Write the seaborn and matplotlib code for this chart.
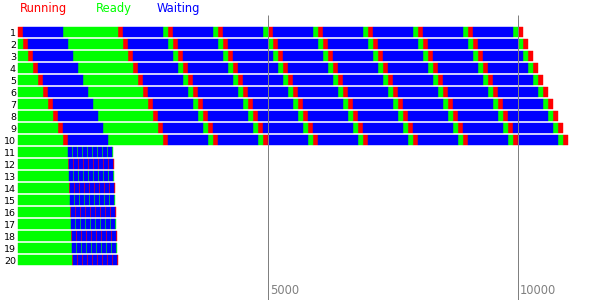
import matplotlib
matplotlib.use("Agg")
import matplotlib.pyplot as plt
import seaborn as sns
import pandas as pd

# ---- data ----
states = ["Running", "Ready", "Waiting"]
state_colors = ["#ff0000", "#00ff00", "#0000ff"]
processes = [str(i) for i in range(1, 21)]

# processes 1-10: time spent Ready before the first run, then a shared pattern
cpu_initial_ready = [0, 100, 200, 300, 400, 500, 600, 700, 800, 900]
cpu_pattern_states = (["Running", "Waiting", "Ready", "Running", "Waiting"]
                      + ["Ready", "Running", "Waiting"] * 7
                      + ["Ready", "Running"])
cpu_pattern_durations = ([100, 800, 1100, 100, 800]
                         + [100, 100, 800] * 7
                         + [100, 100])

# processes 11-20: long initial Ready, then short bursts
io_initial_ready = [1000, 1000, 1020, 1020, 1040, 1040, 1060, 1060, 1080, 1080]
io_odd_states = ["Waiting", "Ready"] * 9
io_odd_durations = [80, 20] * 9
io_even_states = ["Running", "Waiting"] * 9 + ["Running"]
io_even_durations = [20, 80] * 9 + [20]

tick_values = [5000, 10000]
tick_labels = ["5000", "10000"]

# ---- build segment table ----
rows = []
for i, proc in enumerate(processes):
    if i < 10:
        seq = [("Ready", cpu_initial_ready[i])] + list(zip(cpu_pattern_states, cpu_pattern_durations))
    else:
        j = i - 10
        if j % 2 == 0:
            tail = list(zip(io_odd_states, io_odd_durations))
        else:
            tail = list(zip(io_even_states, io_even_durations))
        seq = [("Ready", io_initial_ready[j])] + tail
    t = 0
    for st, d in seq:
        if d > 0:
            rows.append({"process": proc, "row": i + 1, "state": st, "start": t, "duration": d})
        t += d
df = pd.DataFrame(rows)

# ---- draw ----
sns.set_style("white")
plt.rcParams["font.family"] = ["DejaVu Sans"]
palette = dict(zip(states, state_colors))

fig = plt.figure(figsize=(6.01, 3.0), dpi=100)
ax = fig.add_axes([0, 0, 1, 1])
ax.set_xlim(-360, 11660)
ax.set_ylim(1 + (300 - 32) / 12, 1 - 32 / 12)
ax.axis("off")

for st in states:
    sub = df[df["state"] == st]
    ax.barh(sub["row"].to_numpy(), sub["duration"].to_numpy(), left=sub["start"].to_numpy(),
            height=10 / 12, color=palette[st], edgecolor=palette[st],
            linewidth=0.3, antialiased=True, zorder=2)

ax.vlines(tick_values, 1 + (15 - 32) / 12, 1 + (300 - 32) / 12,
          color="#808080", linewidth=0.72, zorder=3)
for v, lab in zip(tick_values, tick_labels):
    ax.text(v + 40, 1 + (294.5 - 32) / 12, lab, ha="left", va="baseline",
            fontsize=8.3, color="#808080")

for r, proc in enumerate(processes, start=1):
    ax.text(-40, r + 4.5 / 12, proc, ha="right", va="baseline", fontsize=6.8, color="black")

legend_x = [19.5, 96, 157]
for st, col, lx in zip(states, state_colors, legend_x):
    fig.text(lx / 601, 1 - 12 / 300, st, ha="left", va="baseline", fontsize=8.3, color=col)

fig.savefig("out.png", dpi=100)
